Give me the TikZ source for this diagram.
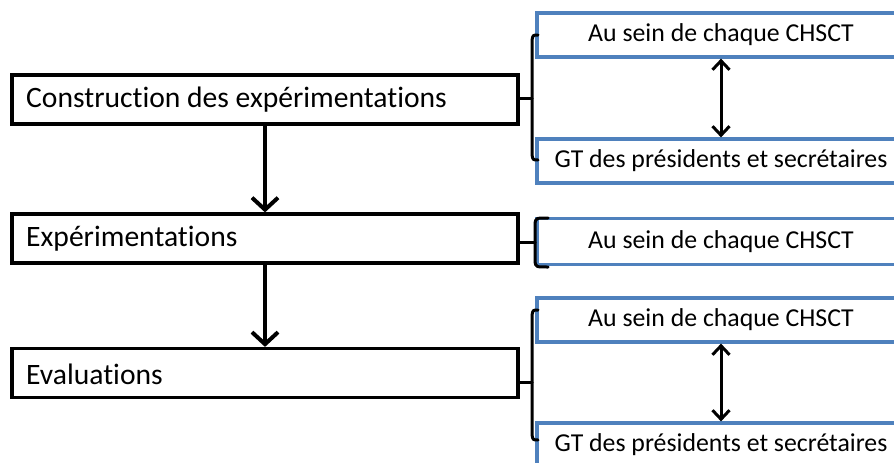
\documentclass[tikz,border=0pt]{standalone}
\usepackage{fontspec}
\setmainfont{Carlito}[Ligatures={NoCommon}]
\usetikzlibrary{arrows.meta}
\definecolor{officeblue}{HTML}{4F81BD}
\tikzstyle{arrow} = [line width=4pt,-{Straight Barb[length=12pt,width=26pt,line width=4pt]}]
\tikzstyle{dblarrow} = [line width=3pt,{Straight Barb[length=9pt,width=17pt,line width=3pt]}-{Straight Barb[length=9pt,width=17pt,line width=3pt]}]

\begin{document}
\begin{tikzpicture}
        [
            x=1pt, y=-1pt,
            step box/.style={rectangle,draw=black,line width=3.2pt,minimum width=506pt,minimum height=49pt,inner sep=0pt},
            site box/.style={rectangle,draw=officeblue,line width=3.2pt,minimum width=368pt,minimum height=44pt,inner sep=0pt,font=\fontsize{25.8}{28}\selectfont},
            step text/.style={anchor=west,inner sep=0pt,font=\fontsize{29.6}{32}\selectfont},
            brace/.style={line width=3pt,line cap=round,line join=round},
        ]
    \useasboundingbox (0,0) rectangle (894,463);
    \clip (0,0) rectangle (894,463);

    % left column
    \node[step box] (construction) at (265,99.5){};
    \node[step box] (experiment)   at (265,238.5){};
    \node[step box] (evaluation)   at (265,373){};
    \node[step text] at (26,100){Construction des expérimentations};
    \node[step text] at (26,239){Expérimentations};
    \node[step text] at (26,374){Evaluations};

    \draw[arrow] (construction.south) -- (experiment.north);
    \draw[arrow] (experiment.south) -- (evaluation.north);

    % right column
    \node[site box] (chsctA) at (721,35){Au sein de chaque CHSCT};
    \node[site box] (gtA)    at (721,161){GT des présidents et secrétaires};
    \node[site box,minimum height=46pt] (chsctB) at (721,241.5){Au sein de chaque CHSCT};
    \node[site box] (chsctC) at (721,320){Au sein de chaque CHSCT};
    \node[site box] (gtC)    at (721,445){GT des présidents et secrétaires};

    \draw[dblarrow] (chsctA.south) -- (gtA.north);
    \draw[dblarrow] (chsctC.south) -- (gtC.north);

    % braces
    \coordinate (tipA) at (532,98);
    \coordinate (tipB) at (535,242);
    \coordinate (tipC) at (532,382);
    \draw[brace] (538,35) .. controls (533,35) .. (532,40) -- (532,93)
        .. controls (532,97) .. (tipA) .. controls (532,99) .. (532,103)
        -- (532,155) .. controls (533,160) .. (538,160);
    \draw[brace] (548,218) .. controls (536,218) .. (535,223) -- (535,238)
        .. controls (535,241) .. (tipB) .. controls (535,243) .. (535,246)
        -- (535,262) .. controls (536,267) .. (548,267);
    \draw[brace] (538,310) .. controls (533,310) .. (532,315) -- (532,377)
        .. controls (532,381) .. (tipC) .. controls (532,383) .. (532,387)
        -- (532,435) .. controls (533,440) .. (538,440);
    \draw[brace] (construction.east |- tipA) -- (tipA);
    \draw[brace] (experiment.east |- tipB) -- (tipB);
    \draw[brace] (evaluation.east |- tipC) -- (tipC);
    \end{tikzpicture}
\end{document}
